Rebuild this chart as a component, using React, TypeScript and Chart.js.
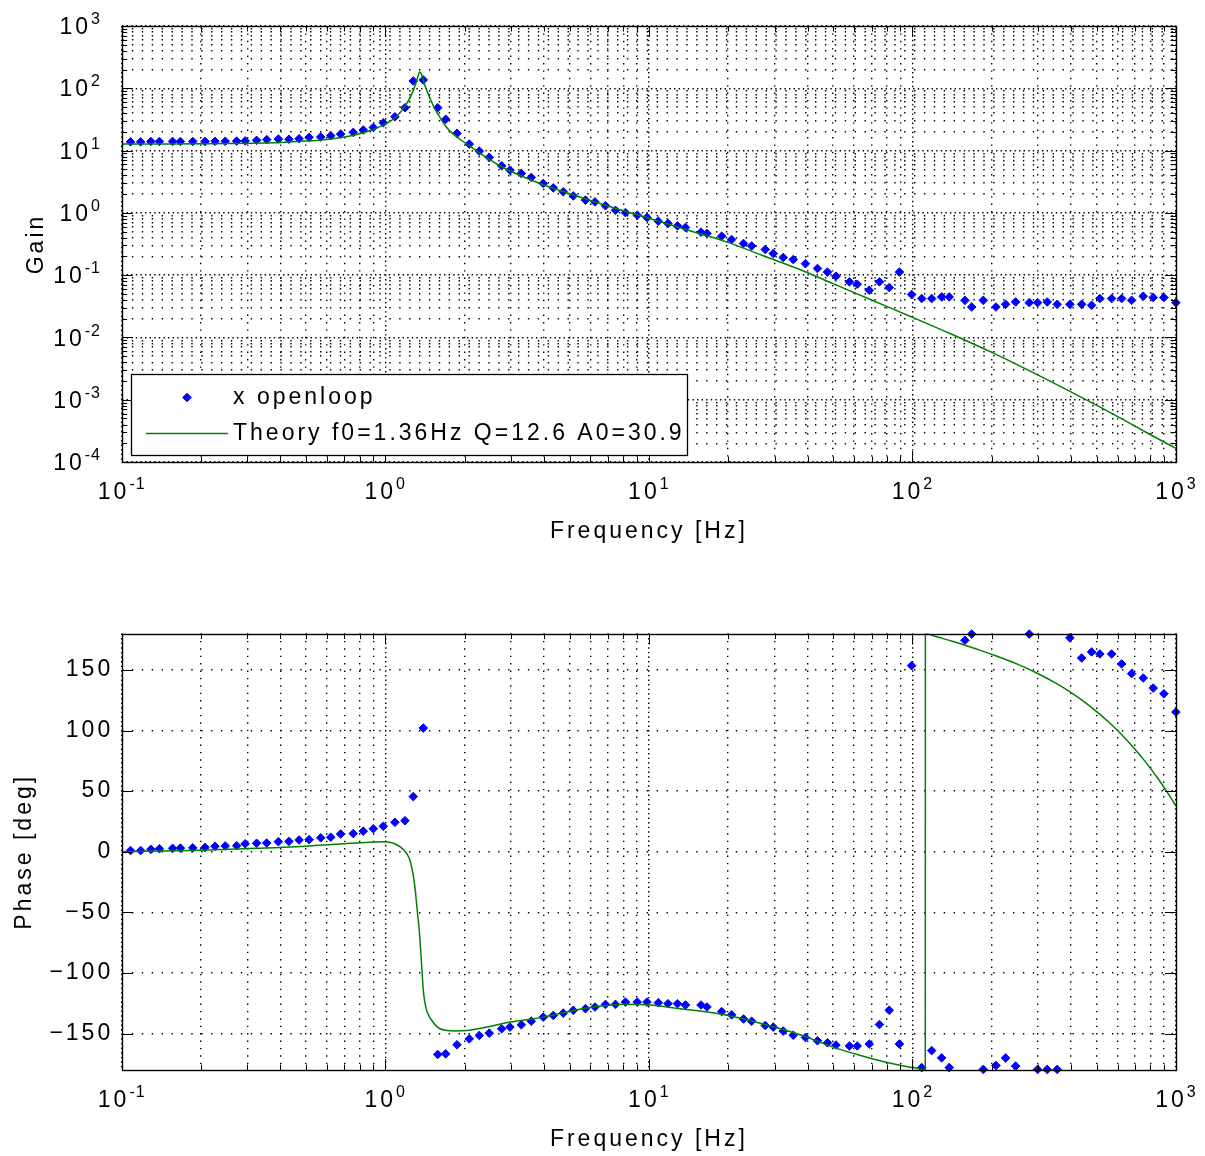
import React, { useEffect, useRef } from 'react';
import { Chart, registerables } from 'chart.js';

Chart.register(...registerables);

// ------------------------------------------------------------------ data
const SERIES_LABELS = ['x openloop', 'Theory f0=1.36Hz Q=12.6 A0=30.9'];

const MEAS_FREQ = [
  0.108, 0.118, 0.129, 0.139, 0.156, 0.167, 0.186, 0.207, 0.226, 0.247,
  0.273, 0.294, 0.325, 0.355, 0.393, 0.431, 0.471, 0.514, 0.569, 0.621,
  0.677, 0.756, 0.825, 0.901, 0.983, 1.088, 1.188, 1.277, 1.394, 1.581,
  1.695, 1.871, 2.083, 2.273, 2.48, 2.764, 2.972, 3.281, 3.58, 3.975,
  4.338, 4.734, 5.168, 5.747, 6.246, 6.845, 7.47, 8.151, 9.036, 9.835,
  10.86, 11.82, 12.84, 13.77, 15.77, 16.61, 18.89, 20.61, 22.86, 24.55,
  27.64, 29.65, 32.35, 35.3, 39.28, 43.62, 47.59, 51.27, 57.68, 61.74,
  68.57, 74.96, 81.66, 89.27, 99.31, 108.4, 118.3, 129.1, 137.9, 158.2,
  167.8, 185.7, 207.4, 225.7, 246.3, 277.5, 298.5, 324.6, 354.2, 395.8,
  438.5, 478.4, 514.1, 569.8, 621.9, 678.5, 751, 819.5, 899.7, 999,
];

const MEAS_GAIN = [
  13.8, 13.8, 14.0, 14.0, 14.0, 14.0, 14.0, 14.0, 14.1, 14.1,
  14.2, 14.3, 14.6, 15.0, 15.3, 15.2, 15.5, 16.3, 16.5, 17.3,
  18.4, 19.6, 21.4, 23.5, 28.0, 34.9, 48.8, 131, 136, 48.8,
  31.8, 18.9, 12.7, 9.82, 7.78, 5.7, 4.86, 4.3, 3.71, 2.97,
  2.52, 2.18, 1.87, 1.6, 1.5, 1.3, 1.1, 1.01, 0.918, 0.843,
  0.735, 0.676, 0.618, 0.582, 0.49, 0.467, 0.422, 0.373, 0.322, 0.294,
  0.258, 0.222, 0.192, 0.178, 0.153, 0.128, 0.112, 0.096, 0.078, 0.0714,
  0.0572, 0.078, 0.0632, 0.112, 0.0488, 0.0421, 0.0421, 0.0447, 0.0447, 0.0394,
  0.0308, 0.0394, 0.0308, 0.034, 0.0371, 0.0362, 0.0362, 0.0371, 0.034, 0.034,
  0.034, 0.0328, 0.0421, 0.0421, 0.0421, 0.0394, 0.0458, 0.0437, 0.0437, 0.0362,
];

const MEAS_PHASE = [
  1, 1, 2, 2.5, 2.8, 3, 3.2, 3.5, 4.5, 4.8,
  5, 6.5, 7, 7.2, 8.3, 8.5, 9.7, 10, 11.5, 12,
  14.6, 15, 17, 19, 21, 24.3, 25.6, 45.5, 102, -167.2,
  -166.7, -159.2, -154.3, -151.5, -149.6, -146, -144.6, -142.7, -139.7, -136.4,
  -135, -133.1, -130.8, -129.4, -128.1, -125.9, -125.9, -124, -124, -124,
  -124.5, -125.3, -125.3, -126.4, -126.4, -128, -131.8, -134.5, -137.9, -139.8,
  -143.3, -144.6, -147.9, -151.3, -153.2, -155.9, -157.5, -159.4, -160.2, -160.2,
  -158.6, -142.5, -130.7, -158.6, 153.5, -178, -164, -170, -178, 174.4,
  179.5, -179.5, -176.3, -170.1, -176.8, 179.5, -179.5, -179.5, -179.5, 176.4,
  159.8, 164.8, 163.1, 163.1, 154.9, 146.9, 143.3, 135, 130.3, 115.2,
];

const THEORY_GAIN_FREQ = [
  0.1, 0.15, 0.2, 0.3, 0.4, 0.5, 0.6, 0.7, 0.8, 0.9,
  1.0, 1.05, 1.1, 1.15, 1.2, 1.25, 1.28, 1.31, 1.33, 1.35,
  1.37, 1.39, 1.41, 1.43, 1.46, 1.5, 1.55, 1.6, 1.66, 1.75,
  1.86, 1.95, 2.06, 2.2, 2.4, 2.76, 3.2, 4.0, 4.6, 6.0,
  8.0, 10, 14, 19.7, 27, 37.4, 50, 70, 99.4, 141,
  200, 300, 398, 501, 631, 794, 1000,
];
const THEORY_GAIN = [
  12.7, 12.75, 12.85, 13.1, 13.5, 14.2, 15.1, 16.5, 18.6, 21.8,
  26.5, 30, 35, 43, 55, 75, 95, 125, 155, 183,
  170, 140, 115, 98, 78, 60, 45, 36, 28, 21,
  17.0, 14.5, 12.4, 10.2, 7.9, 5.5, 4.1, 2.8, 2.28, 1.58,
  1.08, 0.82, 0.53, 0.342, 0.207, 0.123, 0.073, 0.0398, 0.0213, 0.01124,
  0.00574, 0.00248, 0.00135, 0.000811, 0.000479, 0.000279, 0.000165,
];

const THEORY_PHASE_FREQ = [
  0.1, 0.2, 0.325, 0.46, 0.625, 0.8, 0.98, 1.05, 1.1, 1.14,
  1.18, 1.21, 1.24, 1.26, 1.28, 1.3, 1.315, 1.33, 1.346, 1.362,
  1.378, 1.394, 1.41, 1.436, 1.47, 1.5, 1.55, 1.613, 1.71, 1.85,
  2.036, 2.425, 2.972, 3.975, 4.878, 6.153, 8.24, 10.1, 13.15, 18.73,
  27.1, 38, 49.4, 62.2, 79.6, 95.7, 106.6, 111.9, 112, 120,
  130, 140, 150, 165, 180, 200, 250, 300, 350, 400,
  450, 500, 550, 600, 650, 700, 750, 800, 850, 900,
  950, 1000,
];
const THEORY_PHASE = [
  0, 1.3, 2.8, 4.1, 6.0, 7.5, 8.3, 7.6, 6.0, 4.0,
  1.0, -2, -7, -13, -21, -32, -43, -54, -65, -81,
  -98, -114, -123, -131, -136, -139, -143, -146, -147.4, -147.8,
  -147.4, -144.6, -140.5, -136.4, -132.2, -128.1, -125.8, -126.3, -129.5, -133.9,
  -142, -151.3, -160.7, -167.4, -173.6, -177.3, -179, -179.9, 179.9, 178.2,
  176.0, 173.9, 171.9, 169.0, 166.3, 162.8, 154.7, 146.8, 139.0, 131.2,
  123.4, 115.6, 107.8, 100.0, 92.2, 84.4, 76.6, 68.8, 61.0, 53.2,
  45.4, 37.6,
];

const TICK_BASE = '10';
const FREQ_DECADES = [-1, 0, 1, 2, 3];
const FREQ_TICK_EXPONENTS = ['-1', '0', '1', '2', '3'];
const GAIN_DECADES = [-4, -3, -2, -1, 0, 1, 2, 3];
const GAIN_TICK_EXPONENTS = ['-4', '-3', '-2', '-1', '0', '1', '2', '3'];
const PHASE_TICKS = [-150, -100, -50, 0, 50, 100, 150];
const PHASE_TICK_LABELS = ['−150', '−100', '−50', '0', '50', '100', '150'];

// ------------------------------------------------------------------ style
const W = 1205;
const H = 578;
const PLOT_LEFT = 121.7;
const RIGHT_PAD = 29;
const FONT_FAMILY = '"Liberation Sans", Arial, Helvetica, sans-serif';
const FONT_SIZE = 23;
const EXP_SIZE = 16;
const EXP_RAISE = 10;
const BLUE = '#0000ff';
const GREEN = '#008000';
const GRID_W = 1.4;

function logTickValues(decades: number[]) {
  const out: number[] = [];
  decades.forEach((d, i) => {
    const base = Math.pow(10, d);
    out.push(base);
    if (i < decades.length - 1) for (let m = 2; m <= 9; m++) out.push(m * base);
  });
  return out;
}

function decadeIndex(v: number, decades: number[]) {
  const l = Math.log10(v);
  const r = Math.round(l);
  return Math.abs(l - r) < 1e-6 ? decades.indexOf(r) : -1;
}

const font = { family: FONT_FAMILY, size: FONT_SIZE, weight: 'normal' as const };

function freqAxis(height: number, titleBottom: number) {
  return {
    type: 'logarithmic',
    position: 'bottom',
    min: 0.1,
    max: 1000,
    afterBuildTicks: (s: any) => {
      s.ticks = logTickValues(FREQ_DECADES).map((v) => ({ value: v }));
    },
    afterFit: (s: any) => {
      s.height = height;
    },
    ticks: { display: false, autoSkip: false },
    grid: { drawTicks: false, color: '#000', lineWidth: GRID_W },
    border: {
      display: false,
      dash: (c: any) =>
        c && c.tick && decadeIndex(c.tick.value, FREQ_DECADES) >= 0 ? [GRID_W, 3.2] : [GRID_W, 6],
    },
    title: {
      display: true,
      text: 'Frequency [Hz]',
      color: '#000',
      font,
      padding: { top: 0, bottom: titleBottom },
    },
  };
}

function drawPowerLabel(
  ctx: CanvasRenderingContext2D,
  exp: string,
  x: number,
  baseline: number,
  align: 'center' | 'right',
) {
  const baseFont = `${FONT_SIZE}px ${FONT_FAMILY}`;
  const expFont = `${EXP_SIZE}px ${FONT_FAMILY}`;
  ctx.font = baseFont;
  (ctx as any).letterSpacing = '3px';
  const wb = ctx.measureText(TICK_BASE).width;
  ctx.font = expFont;
  (ctx as any).letterSpacing = '1px';
  const we = ctx.measureText(exp).width;
  const total = wb + we;
  const x0 = align === 'center' ? x - total / 2 : x - total;
  ctx.textAlign = 'left';
  ctx.textBaseline = 'alphabetic';
  ctx.fillStyle = '#000';
  ctx.font = baseFont;
  (ctx as any).letterSpacing = '3px';
  ctx.fillText(TICK_BASE, x0, baseline);
  ctx.font = expFont;
  (ctx as any).letterSpacing = '1px';
  ctx.fillText(exp, x0 + wb, baseline - EXP_RAISE);
  (ctx as any).letterSpacing = '3px';
}

function drawDiamond(ctx: CanvasRenderingContext2D, x: number, y: number, r: number, color: string) {
  ctx.beginPath();
  ctx.moveTo(x - r, y);
  ctx.lineTo(x, y - r);
  ctx.lineTo(x + r, y);
  ctx.lineTo(x, y + r);
  ctx.closePath();
  ctx.fillStyle = color;
  ctx.fill();
  ctx.strokeStyle = color;
  ctx.lineWidth = 1;
  ctx.stroke();
}

function framePlugin(isMajorY: (v: number) => boolean, logY: boolean, withLegend: boolean) {
  return {
    id: 'matlabFrame',
    beforeDraw(chart: any) {
      chart.ctx.letterSpacing = '3px';
    },
    afterDraw(chart: any) {
      const ctx: CanvasRenderingContext2D = chart.ctx;
      const a = chart.chartArea;
      const xs = chart.scales.x;
      const ys = chart.scales.y;
      ctx.save();
      ctx.setLineDash([]);
      ctx.strokeStyle = '#000';
      ctx.lineWidth = 1;
      ctx.beginPath();
      for (const t of xs.ticks) {
        const px = Math.round(xs.getPixelForValue(t.value)) + 0.5;
        const len = decadeIndex(t.value, FREQ_DECADES) >= 0 ? 11 : 5.5;
        ctx.moveTo(px, a.bottom);
        ctx.lineTo(px, a.bottom - len);
        ctx.moveTo(px, a.top);
        ctx.lineTo(px, a.top + len);
      }
      for (const t of ys.ticks) {
        const py = Math.round(ys.getPixelForValue(t.value)) + 0.5;
        const len = isMajorY(t.value) ? 11 : 5.5;
        ctx.moveTo(a.left, py);
        ctx.lineTo(a.left + len, py);
        ctx.moveTo(a.right, py);
        ctx.lineTo(a.right - len, py);
      }
      ctx.stroke();

      // power-of-ten tick labels
      FREQ_DECADES.forEach((d, i) => {
        const px = xs.getPixelForValue(Math.pow(10, d));
        drawPowerLabel(ctx, FREQ_TICK_EXPONENTS[i], px, a.bottom + 37, 'center');
      });
      if (logY) {
        GAIN_DECADES.forEach((d, i) => {
          const py = ys.getPixelForValue(Math.pow(10, d));
          drawPowerLabel(ctx, GAIN_TICK_EXPONENTS[i], 101, py + 8.2, 'right');
        });
      }

      if (withLegend) {
        const ds = chart.data.datasets;
        const bx = 131.5;
        const by = 374.5;
        const bw = 556;
        const bh = 81;
        ctx.fillStyle = '#fff';
        ctx.fillRect(bx, by, bw, bh);
        ctx.strokeStyle = '#000';
        ctx.lineWidth = 1.3;
        ctx.strokeRect(bx, by, bw, bh);
        drawDiamond(ctx, 187, 397.5, 4.3, ds[0].pointBackgroundColor);
        ctx.beginPath();
        ctx.strokeStyle = ds[1].borderColor;
        ctx.lineWidth = 1.5;
        ctx.moveTo(146, 433.5);
        ctx.lineTo(228, 433.5);
        ctx.stroke();
        ctx.fillStyle = '#000';
        ctx.font = `${FONT_SIZE}px ${FONT_FAMILY}`;
        (ctx as any).letterSpacing = '3px';
        ctx.textAlign = 'left';
        ctx.textBaseline = 'middle';
        ctx.fillText(ds[0].label, 233, 398);
        ctx.fillText(ds[1].label, 233, 434);
      }

      ctx.strokeStyle = '#000';
      ctx.lineWidth = 1.4;
      const l = Math.round(a.left) + 0.5;
      const t = Math.round(a.top) + 0.5;
      const r = Math.round(a.right) + 0.5;
      const b = Math.round(a.bottom) + 0.5;
      ctx.strokeRect(l, t, r - l, b - t);
      ctx.restore();
    },
  };
}

function measuredDataset(values: number[]) {
  return {
    label: SERIES_LABELS[0],
    data: MEAS_FREQ.map((f, i) => ({ x: f, y: values[i] })),
    showLine: false,
    pointStyle: 'rectRot',
    pointRadius: 4.3,
    pointBorderWidth: 1,
    pointBackgroundColor: BLUE,
    pointBorderColor: BLUE,
    borderColor: BLUE,
    backgroundColor: BLUE,
    clip: false,
    order: 1,
  };
}

function theoryDataset(freqs: number[], values: number[]) {
  return {
    label: SERIES_LABELS[1],
    data: freqs.map((f, i) => ({ x: f, y: values[i] })),
    showLine: true,
    borderColor: GREEN,
    backgroundColor: GREEN,
    borderWidth: 1.5,
    pointRadius: 0,
    pointHoverRadius: 0,
    cubicInterpolationMode: 'monotone',
    fill: false,
    order: 0,
  };
}

const commonOptions = {
  responsive: false,
  maintainAspectRatio: false,
  devicePixelRatio: 1,
  animation: false,
  events: [],
};

function gainConfig(): any {
  return {
    type: 'scatter',
    data: {
      datasets: [measuredDataset(MEAS_GAIN), theoryDataset(THEORY_GAIN_FREQ, THEORY_GAIN)],
    },
    options: {
      ...commonOptions,
      layout: { padding: { top: 26, right: RIGHT_PAD, left: 0, bottom: 0 } },
      plugins: { legend: { display: false }, tooltip: { enabled: false } },
      scales: {
        x: freqAxis(116, 32.2),
        y: {
          type: 'logarithmic',
          position: 'left',
          min: 1e-4,
          max: 1e3,
          afterBuildTicks: (s: any) => {
            s.ticks = logTickValues(GAIN_DECADES).map((v) => ({ value: v }));
          },
          afterFit: (s: any) => {
            s.width = PLOT_LEFT;
          },
          ticks: { display: false, autoSkip: false },
          grid: { drawTicks: false, color: '#000', lineWidth: GRID_W },
          border: {
            display: false,
            dash: (c: any) =>
              c && c.tick && decadeIndex(c.tick.value, GAIN_DECADES) >= 0 ? [GRID_W, 3.2] : [GRID_W, 8.5],
          },
          title: {
            display: true,
            text: 'Gain',
            color: '#000',
            font,
            padding: { top: 23, bottom: 0 },
          },
        },
      },
    },
    plugins: [framePlugin((v) => decadeIndex(v, GAIN_DECADES) >= 0, true, true)],
  };
}

function phaseConfig(): any {
  return {
    type: 'scatter',
    data: {
      datasets: [measuredDataset(MEAS_PHASE), theoryDataset(THEORY_PHASE_FREQ, THEORY_PHASE)],
    },
    options: {
      ...commonOptions,
      layout: { padding: { top: 55.5, right: RIGHT_PAD, left: 0, bottom: 0 } },
      plugins: { legend: { display: false }, tooltip: { enabled: false } },
      scales: {
        x: freqAxis(86, 2.2),
        y: {
          type: 'linear',
          position: 'left',
          min: -180,
          max: 180,
          afterBuildTicks: (s: any) => {
            s.ticks = PHASE_TICKS.map((v) => ({ value: v }));
          },
          afterFit: (s: any) => {
            s.width = PLOT_LEFT;
          },
          ticks: {
            autoSkip: false,
            padding: 8.5,
            color: '#000',
            font,
            callback: (v: any) => {
              const i = PHASE_TICKS.indexOf(Number(v));
              return i >= 0 ? PHASE_TICK_LABELS[i] : '';
            },
          },
          grid: { drawTicks: false, color: '#000', lineWidth: GRID_W },
          border: { display: false, dash: [GRID_W, 8.5] },
          title: {
            display: true,
            text: 'Phase [deg]',
            color: '#000',
            font,
            padding: { top: 11.2, bottom: 0 },
          },
        },
      },
    },
    plugins: [framePlugin(() => true, false, false)],
  };
}

export default function App() {
  const gainRef = useRef<HTMLCanvasElement>(null);
  const phaseRef = useRef<HTMLCanvasElement>(null);

  useEffect(() => {
    const c1 = new Chart(gainRef.current as HTMLCanvasElement, gainConfig());
    const c2 = new Chart(phaseRef.current as HTMLCanvasElement, phaseConfig());
    return () => {
      c1.destroy();
      c2.destroy();
    };
  }, []);

  return (
    <div style={{ position: 'absolute', left: 0, top: 0, width: W, height: H * 2, background: '#fff' }}>
      <canvas
        ref={gainRef}
        width={W}
        height={H}
        style={{ position: 'absolute', left: 0, top: 0, width: W, height: H }}
      />
      <canvas
        ref={phaseRef}
        width={W}
        height={H}
        style={{ position: 'absolute', left: 0, top: H, width: W, height: H }}
      />
    </div>
  );
}
